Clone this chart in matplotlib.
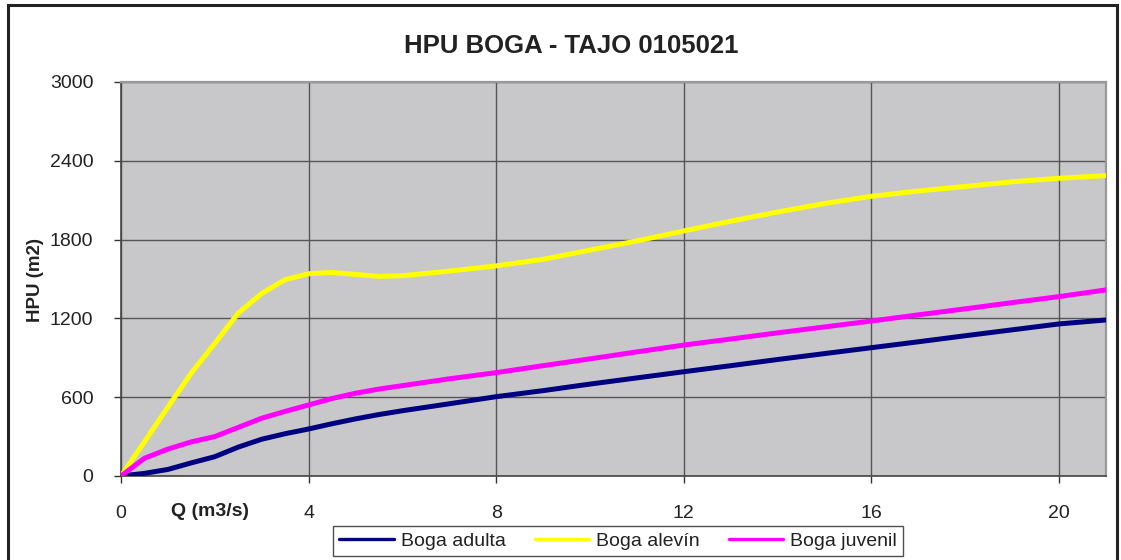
import matplotlib
matplotlib.use("Agg")
import matplotlib.pyplot as plt
from matplotlib.patches import Rectangle

plt.rcParams['font.family'] = ['Liberation Sans', 'DejaVu Sans']

title = "HPU BOGA - TAJO 0105021"
xlabel = "Q (m3/s)"
ylabel = "HPU (m2)"
xticks = [0, 4, 8, 12, 16, 20]
yticks = [0, 600, 1200, 1800, 2400, 3000]

q = [0, 0.5, 1, 1.5, 2, 2.5, 3, 3.5, 4, 4.5, 5, 5.5, 6, 7, 8, 9, 10, 11, 12,
     13, 14, 15, 16, 17, 18, 19, 20, 21]
boga_adulta = [0, 20, 50, 100, 147, 220, 280, 322, 358, 398, 435, 468, 497, 550, 604,
               650, 700, 747, 794, 840, 887, 932, 977, 1022, 1068, 1113, 1158, 1188]
boga_alevin = [0, 260, 525, 785, 1010, 1240, 1390, 1495, 1540, 1550, 1535, 1520, 1525,
               1560, 1600, 1650, 1720, 1790, 1866, 1940, 2010, 2075, 2130, 2170,
               2205, 2240, 2267, 2287]
boga_juvenil = [0, 135, 205, 260, 300, 370, 440, 492, 541, 590, 630, 662, 688, 740, 787,
                840, 892, 945, 997, 1043, 1090, 1135, 1180, 1227, 1273, 1320, 1366, 1417]

series = [("Boga adulta", boga_adulta, "#000080"),
          ("Boga alevín", boga_alevin, "#FFFF00"),
          ("Boga juvenil", boga_juvenil, "#FF00FF")]

W, H = 1121, 560
fig = plt.figure(figsize=(W / 100, H / 100), dpi=100)
fig.patch.set_facecolor("white")

# outer frame
fig.patches.append(Rectangle((8 / W, -0.05), (1117 - 8) / W, (H - 5) / H + 0.05,
                             transform=fig.transFigure, fill=False,
                             edgecolor="#222222", linewidth=2.2))

ax = fig.add_axes([121 / W, (H - 476) / H, (1106 - 121) / W, (476 - 82) / H])
ax.set_facecolor("#C8C8CA")

for name, vals, col in series:
    ax.plot(q, vals, color=col, linewidth=3.6, label=name, solid_capstyle="round",
            solid_joinstyle="round", zorder=3)

ax.set_xlim(0, 21)
ax.set_ylim(0, 3000)
ax.set_xticks(xticks)
ax.set_yticks(yticks)
ax.grid(True, color="#555555", linewidth=1.0, zorder=1)
ax.set_axisbelow(True)
ax.tick_params(axis="both", direction="out", length=5, width=1, color="#333333",
               labelsize=14, labelcolor="#222222")
ax.tick_params(axis="x", pad=16)
ax.tick_params(axis="y", pad=15)

for s in ["left", "bottom"]:
    ax.spines[s].set_color("#444444")
    ax.spines[s].set_linewidth(1.2)
for s in ["top", "right"]:
    ax.spines[s].set_color("#999999")
    ax.spines[s].set_linewidth(1.6)

fig.text(571 / W, 1 - 46 / H, title, ha="center", va="center", fontsize=18.5,
         fontweight="bold", color="#222222")
fig.text(35 / W, 1 - 280 / H, ylabel, ha="center", va="center", rotation=90,
         fontsize=13.5, fontweight="bold", color="#222222")
fig.text(210 / W, 1 - 511 / H, xlabel, ha="center", va="center", fontsize=14,
         fontweight="bold", color="#222222")

leg = fig.legend(loc="center", bbox_to_anchor=(618 / W, 1 - 541 / H), ncol=3,
                 fontsize=14, frameon=True, fancybox=False, handlelength=2.8,
                 handletextpad=0.35, columnspacing=1.5, borderpad=0.3,
                 borderaxespad=0)
leg.get_frame().set_edgecolor("#222222")
leg.get_frame().set_linewidth(1.0)
for ln in leg.get_lines():
    ln.set_linewidth(2.4)
for t in leg.get_texts():
    t.set_color("#222222")

fig.savefig("out.png", dpi=100)
